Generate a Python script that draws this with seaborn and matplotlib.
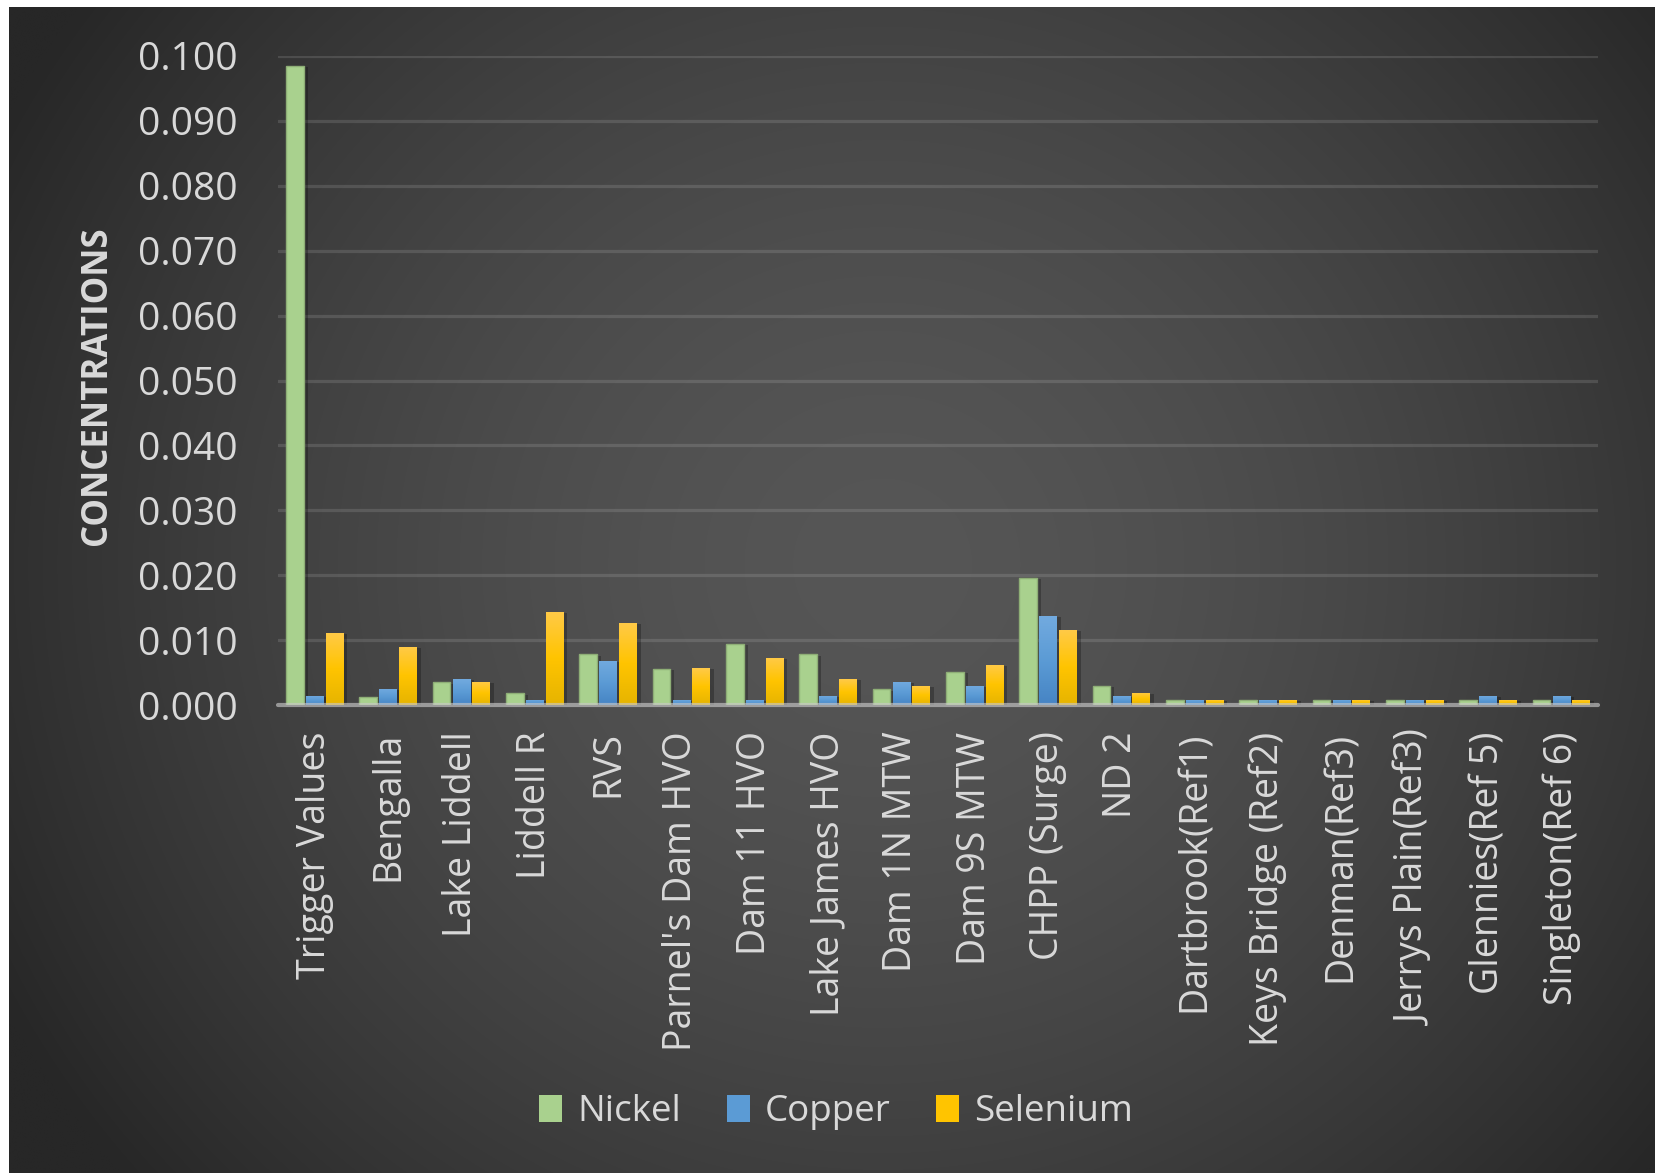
import numpy as np
import pandas as pd
import matplotlib
matplotlib.use("Agg")
import matplotlib.pyplot as plt
import matplotlib.patheffects as pe
from matplotlib.patches import Patch
from matplotlib.colors import LinearSegmentedColormap
import seaborn as sns

# ---------------- data ----------------
sites = ["Trigger Values", "Bengalla", "Lake Liddell", "Liddell R", "RVS",
         "Parnel's Dam HVO", "Dam 11 HVO", "Lake James HVO", "Dam 1N MTW",
         "Dam 9S MTW", "CHPP (Surge)", "ND 2", "Dartbrook(Ref1)",
         "Keys Bridge (Ref2)", "Denman(Ref3)", "Jerrys Plain(Ref3)",
         "Glennies(Ref 5)", "Singleton(Ref 6)"]
metals = ["Nickel", "Copper", "Selenium"]
nickel = [0.0985, 0.0013, 0.0035, 0.0018, 0.0078, 0.0056, 0.0094, 0.0078,
          0.0024, 0.0051, 0.0196, 0.0030, 0.0008, 0.0008, 0.0008, 0.0008,
          0.0008, 0.0008]
copper = [0.0014, 0.0025, 0.0040, 0.0008, 0.0068, 0.0008, 0.0008, 0.0014,
          0.0036, 0.0030, 0.0137, 0.0014, 0.0008, 0.0008, 0.0008, 0.0008,
          0.0014, 0.0014]
selenium = [0.0111, 0.0090, 0.0036, 0.0144, 0.0127, 0.0057, 0.0073, 0.0040,
            0.0030, 0.0062, 0.0116, 0.0019, 0.0008, 0.0008, 0.0008, 0.0008,
            0.0008, 0.0008]
yticks = [0.000, 0.010, 0.020, 0.030, 0.040, 0.050, 0.060, 0.070, 0.080,
          0.090, 0.100]

df = pd.DataFrame({
    "site": sites * 3,
    "metal": [m for m in metals for _ in sites],
    "value": nickel + copper + selenium,
})

# ---------------- style ----------------
sns.set_theme(style="dark")
plt.rcParams["font.family"] = ["Open Sans", "DejaVu Sans"]
TXT = "#d9d9d9"
colors = {"Nickel": "#a9d18e", "Copper": "#5b9bd5", "Selenium": "#ffc000"}

W, H = 1659, 1173
fig = plt.figure(figsize=(W / 100, H / 100), dpi=100, facecolor="white")

# background panel with radial gradient
bg = fig.add_axes([9 / W, 0, (W - 13) / W, (H - 7) / H])
bg.set_axis_off()
yy, xx = np.mgrid[0:H, 0:W]
d = np.hypot(xx - 880, (yy - 560) * 1.05)
f = np.clip(1 - (d / 1000) ** 1.6, 0, 1)
v = (0x27 + (0x56 - 0x27) * f) / 255
img = np.dstack([v, v, v])
bg.imshow(img, aspect="auto", extent=(0, 1, 0, 1), origin="upper")
bg.set_xlim(0, 1)
bg.set_ylim(0, 1)

ax = fig.add_axes([278 / W, 1 - 705 / H, 1320 / W, 649 / H])
ax.patch.set_alpha(0)

sns.barplot(data=df, x="site", y="value", hue="metal", order=sites,
            hue_order=metals, palette=colors, width=0.81, gap=0.12,
            saturation=1, ax=ax, legend=False, errorbar=None, zorder=3)

grads = {
    "Copper": LinearSegmentedColormap.from_list("cu", ["#4684c4", "#5b9bd5", "#72aadf"]),
    "Selenium": LinearSegmentedColormap.from_list("se", ["#e6b400", "#ffc400", "#ffca48"]),
}
grad = np.linspace(0, 1, 64).reshape(-1, 1)
for cont, metal in zip(ax.containers, metals):
    for p in cont.patches:
        p.set_path_effects([pe.SimplePatchShadow(offset=(3, -1), shadow_rgbFace="black", alpha=0.25),
                            pe.Normal()])
        if metal == "Nickel":
            p.set_edgecolor("#8eae76")
            p.set_linewidth(1.0)
        else:
            p.set_linewidth(0)
            x0, y0 = p.get_x(), p.get_y()
            w, h = p.get_width(), p.get_height()
            im = ax.imshow(grad, cmap=grads[metal], origin="lower", aspect="auto",
                           extent=(x0, x0 + w, y0, y0 + h), zorder=3.5)
            im.set_clip_path(p)

ax.set_xlim(-0.5, len(sites) - 0.5)
ax.set_ylim(0, 0.1)
ax.set_yticks(yticks)
ax.set_yticklabels([f"{t:.3f}" for t in yticks])
ax.grid(False)
for t in yticks[1:]:
    ax.axhline(t, color="white", alpha=0.12, lw=2.3, zorder=1)
ax.axhline(0, color="#c8c8c8", alpha=0.65, lw=3, zorder=6, clip_on=False)

for s in ax.spines.values():
    s.set_visible(False)
ax.tick_params(axis="y", length=0, pad=29, labelsize=28, labelcolor=TXT)
ax.tick_params(axis="x", length=0, pad=19, labelsize=27, labelcolor=TXT,
               labelrotation=90)
for lab in ax.get_xticklabels():
    lab.set_va("top")
    lab.set_ha("center")

ax.set_xlabel("")
ax.set_ylabel("CONCENTRATIONS", fontsize=25, fontweight="bold", color=TXT)
ax.yaxis.label.set_va("center")
ax.yaxis.set_label_coords((97 - 278) / 1320, (705 - 386) / 649)

handles = [
    Patch(facecolor=colors["Nickel"], edgecolor="none"),
    Patch(facecolor="#5b9bd5", edgecolor="none"),
    Patch(facecolor="#ffc400", edgecolor="none"),
]
fig.legend(handles, metals, loc="center", bbox_to_anchor=(836 / W, 1 - 1112 / H),
           ncol=3, frameon=False, fontsize=26.5, labelcolor=TXT,
           handlelength=0.62, handleheight=0.75, handletextpad=0.4,
           columnspacing=1.25)

fig.savefig("out.png", dpi=100, facecolor="white")
